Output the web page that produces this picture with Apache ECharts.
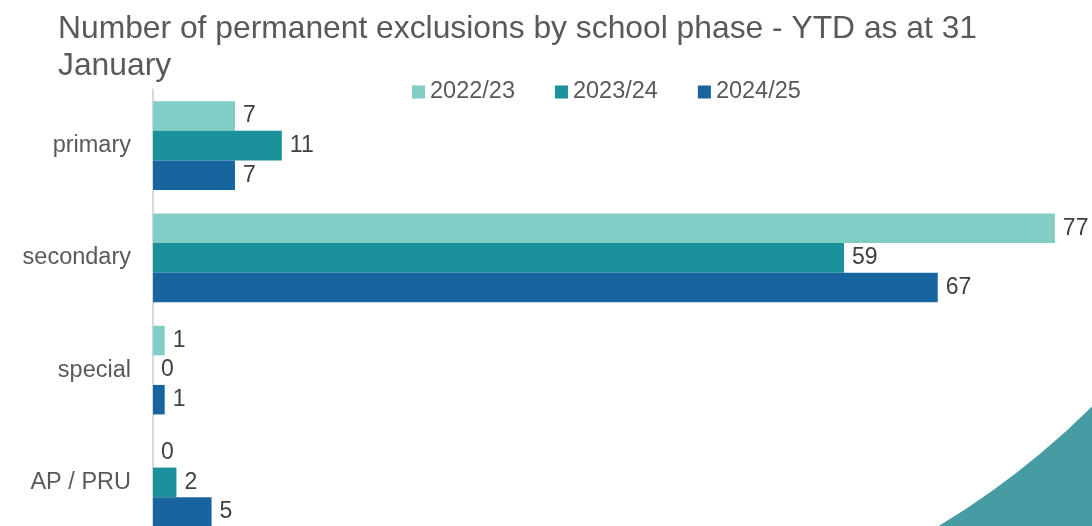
<!DOCTYPE html>
<html>
<head>
<meta charset="utf-8">
<title>Permanent exclusions by school phase</title>
<script src="https://cdn.jsdelivr.net/npm/echarts@6/dist/echarts.min.js"></script>
<style>
  html, body { margin: 0; padding: 0; background: #ffffff; }
  #chart { width: 1092px; height: 526px; }
</style>
</head>
<body>
<div id="chart"></div>
<script>
// School phases, top to bottom
const phases = ['primary', 'secondary', 'special', 'AP / PRU'];

// Academic years shown in the legend
const years = ['2022/23', '2023/24', '2024/25'];

// Permanent exclusions, year to date as at 31 January
const excl2022 = [7, 77, 1, 0];
const excl2023 = [11, 59, 0, 2];
const excl2024 = [7, 67, 1, 5];

const seriesValues = [excl2022, excl2023, excl2024];
const seriesColors = ['#81cdc6', '#1b919c', '#17649e'];

const chart = echarts.init(document.getElementById('chart'), null, { renderer: 'canvas' });

const fontFamily = 'Arial, "Liberation Sans", sans-serif';

chart.setOption({
  backgroundColor: '#ffffff',
  animation: false,
  title: {
    text: 'Number of permanent exclusions by school phase - YTD as at 31\nJanuary',
    left: 53,
    top: 6,
    textStyle: {
      fontFamily: fontFamily,
      fontSize: 31.8,
      fontWeight: 'normal',
      color: '#595959',
      lineHeight: 37
    }
  },
  legend: {
    data: years,
    left: 407,
    top: 75,
    itemWidth: 13,
    itemHeight: 13,
    itemGap: 40,
    icon: 'rect',
    textStyle: {
      fontFamily: fontFamily,
      fontSize: 23.5,
      color: '#595959'
    }
  },
  // The plot runs slightly past the lower edge, so the last bar is cut off
  grid: {
    left: 153,
    right: 2,
    top: 89.5,
    height: 449,
    containLabel: false,
    outerBoundsMode: 'none'
  },
  xAxis: {
    type: 'value',
    min: 0,
    max: 80,
    show: false,
    splitLine: { show: false }
  },
  yAxis: {
    type: 'category',
    data: phases,
    inverse: true,
    axisTick: { show: false },
    axisLine: { show: true, lineStyle: { color: '#d9d9d9', width: 2 } },
    axisLabel: {
      margin: 22,
      padding: [5, 0, 0, 0],
      fontFamily: fontFamily,
      fontSize: 23.5,
      color: '#595959'
    }
  },
  series: years.map((name, i) => ({
    name: name,
    type: 'bar',
    data: seriesValues[i],
    barGap: '0%',
    barCategoryGap: '21%',
    itemStyle: { color: seriesColors[i] },
    label: {
      show: true,
      position: 'right',
      distance: 8,
      fontFamily: fontFamily,
      fontSize: 23,
      color: '#404040'
    },
    z: 2
  })),
  // Decorative teal swoosh in the lower right corner
  graphic: [
    {
      type: 'sector',
      z: -10,
      silent: true,
      shape: {
        cx: 527,
        cy: -160,
        r0: 800,
        r: 1600,
        startAngle: 0.6,
        endAngle: 1.15,
        clockwise: true
      },
      style: { fill: '#479ca4' }
    }
  ]
});
</script>
</body>
</html>
